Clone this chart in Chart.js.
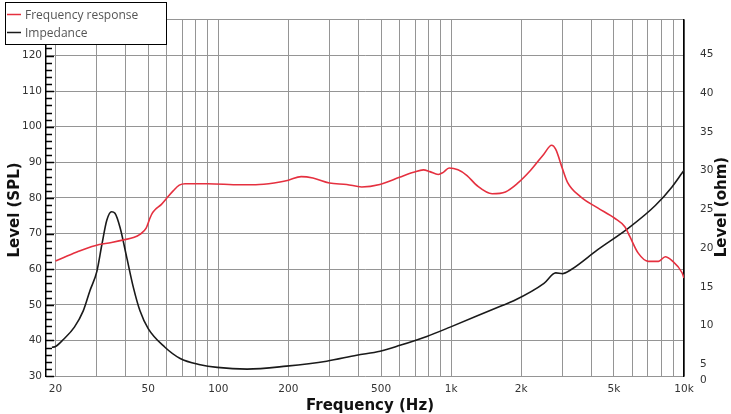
<!DOCTYPE html>
<html>
<head>
<meta charset="utf-8">
<script src="https://cdn.jsdelivr.net/npm/chart.js@4/dist/chart.umd.min.js"></script>
<style>
html,body{margin:0;padding:0;background:#fff;}
#wrap{width:731px;height:414px;position:relative;}
</style>
</head>
<body>
<div id="wrap"><canvas id="c" width="731" height="414"></canvas></div>
<script>
// ---- data ----
const freqTicks = [20,30,40,50,60,70,80,90,100,200,300,400,500,600,700,800,900,1000,2000,3000,4000,5000,6000,7000,8000,9000,10000];
const freqTickLabels = {20:'20',50:'50',100:'100',200:'200',500:'500',1000:'1k',2000:'2k',5000:'5k',10000:'10k'};
const splTicks = [30,40,50,60,70,80,90,100,110,120,130];
const ohmTicks = [5,10,15,20,25,30,35,40,45];

const responseFreq  = [20,24.7,29.5,34.8,39.7,43.2,46.1,49,51,52,53.5,57,60,64,68,72,90,124,150,184,200,227,255,300,356,413,494,600,690,760,810,880,925,980,1070,1170,1290,1500,1710,1920,2190,2500,2700,2810,3010,3160,3600,4260,5040,5570,5850,6360,7030,7770,8310,8880,9810,10000];
const responseLevel = [62.3,64.8,66.6,67.5,68.3,68.9,69.8,71.5,74.5,75.7,76.7,78.2,79.9,82,83.6,84,84,83.7,83.8,84.5,85,86,85.6,84.2,83.8,83.1,83.8,85.8,87.2,87.9,87.4,86.6,87.2,88.4,87.9,86.3,83.5,81.2,81.7,84,87.7,92.3,94.8,93.7,88.1,84.4,80.3,77.2,74.3,71.9,69.2,64.5,62.2,62.2,63.5,62.4,59,57.5];

const impedanceFreq = [19.3,20,21.6,24.1,26.3,28.1,30.1,31.6,33.2,34.8,36,37.9,40.5,43.2,46.1,50,59,68.6,83.6,99,133,196,292,393,495,603,786,990,1627,1857,2504,2813,3008,3266,4262,5755,7530,8880,9810,10000];
const impedanceOhm  = [7.2,7.3,8.2,9.8,11.9,14.5,17.0,20.4,23.6,24.7,24.5,22.6,18.7,14.9,11.9,9.6,7.2,5.75,4.95,4.6,4.38,4.76,5.4,6.17,6.68,7.45,8.6,9.8,12.5,13.2,15.45,16.8,16.7,17.2,19.8,22.55,25.5,27.9,29.7,30.05];

const seriesNames = ['Frequency response','Impedance'];
const seriesColors = ['#e5303f','#1a1a1a'];

// ---- chart ----
const OHM_MIN = 3.49, OHM_MAX = 49.46;

const decorPlugin = {
  id: 'decor',
  afterDraw(chart) {
    const ctx = chart.ctx;
    const ca = chart.chartArea;
    const y = chart.scales.y;
    // inner ticks on left axis
    ctx.save();
    ctx.strokeStyle = '#000';
    ctx.lineWidth = 1.5;
    for (let v = 30; v <= 130; v += 2) {
      const py = Math.round(y.getPixelForValue(v)) + 0.5;
      const len = (v % 10 === 0) ? 8 : 6;
      ctx.beginPath();
      ctx.moveTo(ca.left, py);
      ctx.lineTo(ca.left + len, py);
      ctx.stroke();
    }
    ctx.restore();

    // axis titles
    ctx.save();
    ctx.fillStyle = '#111';
    ctx.font = 'bold 15px "DejaVu Sans"';
    ctx.textAlign = 'center';
    ctx.textBaseline = 'middle';
    ctx.fillText('Frequency (Hz)', 370, 406);
    ctx.translate(15, 210);
    ctx.rotate(-Math.PI / 2);
    ctx.fillText('Level (SPL)', 0, 0);
    ctx.restore();
    ctx.save();
    ctx.fillStyle = '#111';
    ctx.font = 'bold 15px "DejaVu Sans"';
    ctx.textAlign = 'center';
    ctx.textBaseline = 'middle';
    ctx.translate(722, 207);
    ctx.rotate(-Math.PI / 2);
    ctx.fillText('Level (ohm)', 0, 0);
    ctx.restore();

    // legend
    ctx.save();
    ctx.fillStyle = '#fff';
    ctx.fillRect(5, 2, 162, 43);
    ctx.strokeStyle = '#000';
    ctx.lineWidth = 1;
    ctx.strokeRect(5.5, 2.5, 161, 42);
    ctx.font = '12px "Open Sans"';
    ctx.textBaseline = 'middle';
    ctx.textAlign = 'left';
    chart.data.datasets.forEach((ds, i) => {
      const ly = 14.5 + i * 18;
      ctx.strokeStyle = ds.borderColor;
      ctx.lineWidth = 1.5;
      ctx.beginPath();
      ctx.moveTo(7, ly);
      ctx.lineTo(21, ly);
      ctx.stroke();
      ctx.fillStyle = '#555';
      ctx.fillText(ds.label, 25, ly + 1);
    });
    ctx.restore();
  }
};

new Chart(document.getElementById('c'), {
  type: 'line',
  data: {
    datasets: [
      {
        label: seriesNames[0],
        data: responseFreq.map((f, i) => ({x: f, y: responseLevel[i]})),
        borderColor: seriesColors[0],
        borderWidth: 1.6,
        pointRadius: 0,
        cubicInterpolationMode: 'monotone',
        yAxisID: 'y'
      },
      {
        label: seriesNames[1],
        data: impedanceFreq.map((f, i) => ({x: f, y: impedanceOhm[i]})),
        borderColor: seriesColors[1],
        borderWidth: 1.6,
        pointRadius: 0,
        cubicInterpolationMode: 'monotone',
        yAxisID: 'y1'
      }
    ]
  },
  options: {
    responsive: false,
    animation: false,
    devicePixelRatio: 1,
    layout: { padding: { top: 16, left: 0, right: 0, bottom: 0 } },
    plugins: { legend: { display: false }, tooltip: { enabled: false } },
    scales: {
      x: {
        type: 'logarithmic',
        position: 'bottom',
        min: 18.2,
        max: 10000,
        afterBuildTicks: s => { s.ticks = freqTicks.map(v => ({value: v})); },
        afterFit: s => { s.height = 38; },
        ticks: {
          autoSkip: false, maxRotation: 0, minRotation: 0,
          callback: v => freqTickLabels[v] || '',
          font: { family: 'DejaVu Sans', size: 10.5 },
          color: '#333',
          padding: 7
        },
        grid: { color: '#959595', lineWidth: 1, drawTicks: false },
        border: { display: false }
      },
      y: {
        type: 'linear',
        position: 'left',
        min: 30,
        max: 130,
        afterBuildTicks: s => { s.ticks = splTicks.map(v => ({value: v})); },
        afterFit: s => { s.width = 46; },
        ticks: {
          callback: v => v === 130 ? '' : String(v),
          font: { family: 'DejaVu Sans', size: 10.5 },
          color: '#333',
          padding: 4
        },
        grid: { color: '#959595', lineWidth: 1, drawTicks: false },
        border: { display: true, color: '#000', width: 1.5 }
      },
      y1: {
        type: 'linear',
        position: 'right',
        min: OHM_MIN,
        max: OHM_MAX,
        afterBuildTicks: s => { s.ticks = [{value: OHM_MIN}].concat(ohmTicks.map(v => ({value: v}))); },
        afterFit: s => { s.width = 47; },
        ticks: {
          callback: v => v < 5 ? ['', '0'] : String(v),
          font: { family: 'DejaVu Sans', size: 10.5, lineHeight: 0.75 },
          color: '#333',
          padding: 16
        },
        grid: { display: false, drawTicks: false },
        border: { display: true, color: '#000', width: 1.5 }
      }
    }
  },
  plugins: [decorPlugin]
});
</script>
</body>
</html>
